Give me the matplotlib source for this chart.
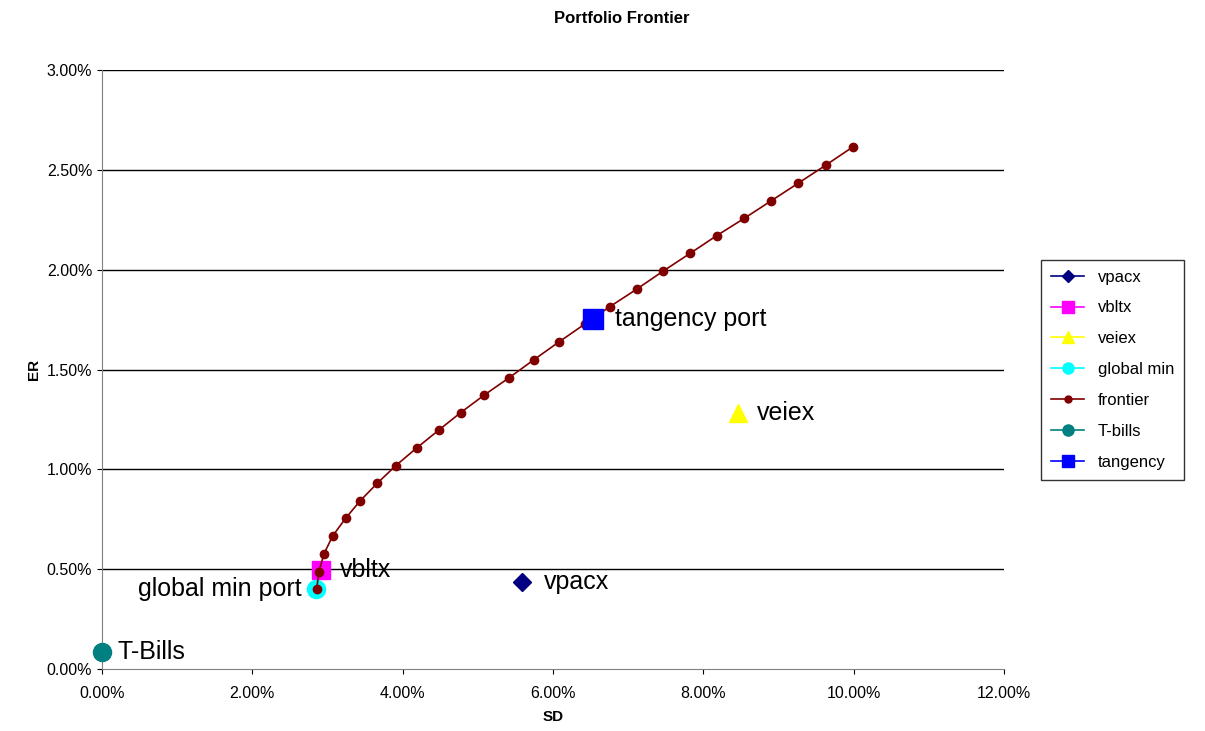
import matplotlib
matplotlib.use("Agg")
import matplotlib.pyplot as plt
from matplotlib.lines import Line2D
from matplotlib.ticker import FuncFormatter

plt.rcParams['font.family'] = ['Liberation Sans', 'DejaVu Sans']

# frontier (SD %, ER %)
frontier_sd = [2.856, 2.887, 2.953, 3.069, 3.242, 3.432, 3.662, 3.907, 4.187, 4.483, 4.772, 5.086, 5.418,
               5.743, 6.084, 6.425, 6.758, 7.113, 7.467, 7.826, 8.177, 8.545, 8.904, 9.263, 9.632, 9.995]
frontier_er = [0.399, 0.487, 0.576, 0.666, 0.755, 0.841, 0.930, 1.018, 1.107, 1.197, 1.284, 1.372, 1.459,
               1.548, 1.639, 1.728, 1.815, 1.902, 1.993, 2.082, 2.170, 2.257, 2.345, 2.433, 2.524, 2.616]
asset_names = ["vpacx", "vbltx", "veiex"]
asset_sd = [5.587, 2.913, 8.461]
asset_er = [0.436, 0.496, 1.282]
gmin_sd, gmin_er = 2.847, 0.401
tbill_sd, tbill_er = 0.0, 0.085
tan_sd, tan_er = 6.532, 1.755

fig = plt.figure(figsize=(12.05, 7.31), dpi=100)
ax = fig.add_axes([0.0846, 0.0848, 0.7485, 0.8194])
for y in [0.5, 1.0, 1.5, 2.0, 2.5, 3.0]:
    ax.axhline(y, color="black", lw=1, zorder=1)

ax.plot(asset_sd[0], asset_er[0], "D", color="#000080", ms=9, zorder=5)
ax.plot(asset_sd[1], asset_er[1], "s", color="#ff00ff", ms=13, zorder=4)
ax.plot(asset_sd[2], asset_er[2], "^", color="#ffff00", ms=13, zorder=4)
ax.plot(gmin_sd, gmin_er, "o", color="#00ffff", ms=13, zorder=4)
ax.plot(frontier_sd, frontier_er, "-o", color="#800000", ms=6, lw=1.2, zorder=6)
ax.plot(tbill_sd, tbill_er, "o", color="#008080", ms=13, zorder=5, clip_on=False)
ax.plot(tan_sd, tan_er, "s", color="#0000ff", ms=14, zorder=7)

fs = 18
ax.annotate("vpacx", (asset_sd[0], asset_er[0]), xytext=(16, 0), textcoords="offset points", va="center", fontsize=fs)
ax.annotate("vbltx", (asset_sd[1], asset_er[1]), xytext=(14, 0), textcoords="offset points", va="center", fontsize=fs)
ax.annotate("veiex", (asset_sd[2], asset_er[2]), xytext=(14, 0), textcoords="offset points", va="center", fontsize=fs)
ax.annotate("global min port", (gmin_sd, gmin_er), xytext=(-10, 0), textcoords="offset points", va="center", ha="right", fontsize=fs)
ax.annotate("T-Bills", (tbill_sd, tbill_er), xytext=(11, 0), textcoords="offset points", va="center", fontsize=fs)
ax.annotate("tangency port", (tan_sd, tan_er), xytext=(16, 0), textcoords="offset points", va="center", fontsize=fs)

ax.set_xlim(0, 12)
ax.set_ylim(0, 3)
ax.set_xticks(range(0, 13, 2))
ax.set_yticks([0, 0.5, 1, 1.5, 2, 2.5, 3])
ax.xaxis.set_major_formatter(FuncFormatter(lambda v, p: f"{v:.2f}%"))
ax.yaxis.set_major_formatter(FuncFormatter(lambda v, p: f"{v:.2f}%"))
ax.tick_params(labelsize=11.5)
ax.tick_params(axis="x", pad=9)
for s in ["top", "right"]:
    ax.spines[s].set_visible(False)
for s in ["left", "bottom"]:
    ax.spines[s].set_color("#808080")
ax.set_xlabel("SD", fontsize=11, fontweight="bold", labelpad=6)
ax.set_ylabel("ER", fontsize=11, fontweight="bold")
fig.text(0.516, 0.975, "Portfolio Frontier", ha="center", va="center", fontsize=12, fontweight="bold")

legend_specs = [("vpacx", "D", "#000080", 6), ("vbltx", "s", "#ff00ff", 8), ("veiex", "^", "#ffff00", 8),
                ("global min", "o", "#00ffff", 8), ("frontier", "o", "#800000", 5),
                ("T-bills", "o", "#008080", 8), ("tangency", "s", "#0000ff", 8)]
handles = [Line2D([], [], color=c, marker=m, ms=ms, lw=1.2, label=l) for l, m, c, ms in legend_specs]
ax.legend(handles=handles, loc="center left", bbox_to_anchor=(1.032, 0.5), fontsize=12, frameon=True,
          fancybox=False, edgecolor="black", labelspacing=0.95, handlelength=2.0, borderpad=0.6)
fig.savefig("out.png", dpi=100)
